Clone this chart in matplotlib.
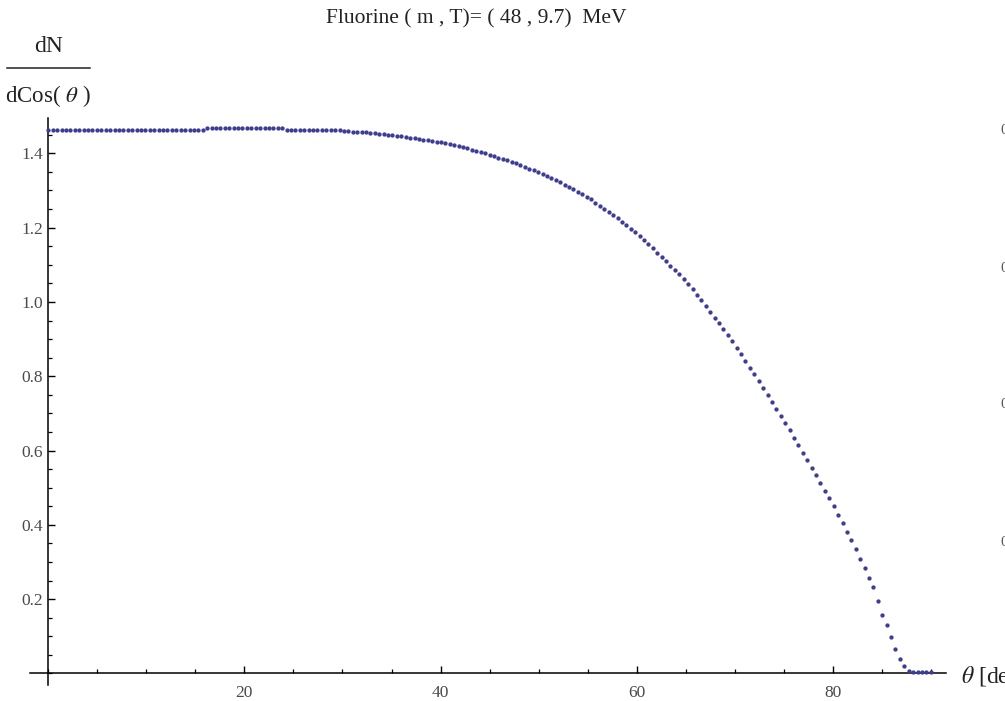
import numpy as np
import matplotlib
matplotlib.use("Agg")
import matplotlib.pyplot as plt
from matplotlib.ticker import MultipleLocator, FixedLocator
from matplotlib.lines import Line2D

plt.rcParams['font.family'] = ['Liberation Serif', 'DejaVu Serif']
plt.rcParams['mathtext.fontset'] = 'stix'

# ---- data ----
theta_step = 0.45
values = (
    [1.462] * 36 +      # 0 .. 15.75 deg
    [1.467] * 18 +      # 16.2 .. 23.85 deg
    [1.462] * 13 +      # 24.3 .. 29.7 deg
    [1.460, 1.459, 1.458, 1.458, 1.457, 1.456, 1.455, 1.454, 1.452, 1.451,
     1.450, 1.449, 1.447, 1.446, 1.444, 1.442, 1.441, 1.439, 1.437, 1.435,
     1.433, 1.431, 1.430, 1.427, 1.424, 1.422, 1.419, 1.416, 1.413, 1.410,
     1.407, 1.403, 1.400, 1.396, 1.392, 1.388, 1.385, 1.381, 1.377, 1.373,
     1.368, 1.364, 1.359, 1.355, 1.350, 1.345, 1.339, 1.333, 1.328, 1.322,
     1.316, 1.309, 1.303, 1.296, 1.290, 1.283, 1.276, 1.267, 1.259, 1.251,
     1.242, 1.234, 1.225, 1.216, 1.206, 1.197, 1.188, 1.178, 1.166, 1.155,
     1.144, 1.133, 1.122, 1.110, 1.098, 1.086, 1.074, 1.062, 1.049, 1.034,
     1.019, 1.004, 0.989, 0.974, 0.958, 0.942, 0.926, 0.910, 0.894, 0.877,
     0.859, 0.841, 0.823, 0.805, 0.787, 0.768, 0.749, 0.730, 0.711, 0.693,
     0.673, 0.654, 0.634, 0.614, 0.594, 0.574, 0.554, 0.533, 0.512, 0.492,
     0.471, 0.450, 0.427, 0.405, 0.382, 0.360, 0.335, 0.309, 0.283, 0.258,
     0.233, 0.196, 0.157, 0.130, 0.097, 0.067, 0.039, 0.020, 0.008, 0.004,
     0.003, 0.003, 0.003, 0.003]
)
theta = np.arange(len(values)) * theta_step

x_major = [20, 40, 60, 80]
y_major = [0.2, 0.4, 0.6, 0.8, 1.0, 1.2, 1.4]
y_major_labels = ["0.2", "0.4", "0.6", "0.8", "1.0", "1.2", "1.4"]
title = "Fluorine ( m , T)= ( 48 , 9.7)  MeV"

# ---- figure ----
W, H = 1005, 701
fig = plt.figure(figsize=(W / 100, H / 100), dpi=100)

xlim = (-1.9, 91.6)
ylim = (-0.031, 1.495)
ax_left_px, ax_right_px = 29.7, 29.7 + 9.805 * (xlim[1] - xlim[0])
ax_top_px, ax_bot_px = 118, 685
ax = fig.add_axes([ax_left_px / W, 1 - ax_bot_px / H,
                   (ax_right_px - ax_left_px) / W, (ax_bot_px - ax_top_px) / H])

dot_color = '#3d3d99'
ax.plot(theta, values, linestyle='none', marker='o', markersize=3.1,
        markerfacecolor=dot_color, markeredgecolor=dot_color,
        markeredgewidth=0, clip_on=False, zorder=3)

ax.set_xlim(*xlim)
ax.set_ylim(*ylim)

for s in ['top', 'right']:
    ax.spines[s].set_visible(False)
ax.spines['left'].set_position(('data', 0))
ax.spines['bottom'].set_position(('data', 0))
for s in ['left', 'bottom']:
    ax.spines[s].set_linewidth(1.1)
    ax.spines[s].set_color('black')

ax.xaxis.set_major_locator(FixedLocator(x_major))
ax.xaxis.set_minor_locator(MultipleLocator(5))
ax.set_xticklabels([str(v) for v in x_major])
ax.yaxis.set_major_locator(FixedLocator(y_major))
ax.yaxis.set_minor_locator(MultipleLocator(0.05))
ax.set_yticklabels(y_major_labels)

label_color = '#4a4a4a'
ax.tick_params(axis='both', which='major', direction='in', length=5, width=1.0,
               color='black', labelsize=12.5, labelcolor=label_color)
ax.tick_params(axis='both', which='minor', direction='in', length=2.8, width=0.9,
               color='black')
ax.tick_params(axis='x', which='major', pad=8)
ax.tick_params(axis='y', which='major', pad=4)

# title
fig.text(476 / W, 1 - 19 / H, title, ha='center', va='center', fontsize=15.5,
         color='#222222')

# y label as a fraction
fig.text(49 / W, 1 - 47 / H, "dN", ha='center', va='center', fontsize=17,
         color='#222222')
fig.add_artist(Line2D([7 / W, 90 / W], [1 - 68 / H, 1 - 68 / H],
                      transform=fig.transFigure, color='#222222', linewidth=1.1))
fig.text(48 / W, 1 - 96 / H, r"dCos( $\theta$ )", ha='center', va='center',
         fontsize=16.5, color='#222222')

# x label (cut off by the right edge, as in the reference)
fig.text(961 / W, 1 - 677 / H, r"$\theta$ [deg]", ha='left', va='center',
         fontsize=17, color='#222222')

# fragments of a neighbouring plot at the right edge
for ypx in [130, 268, 405, 543]:
    fig.text(1000 / W, 1 - ypx / H, "0", ha='left', va='center', fontsize=11,
             color='#555555')

fig.savefig("out.png", dpi=100)
